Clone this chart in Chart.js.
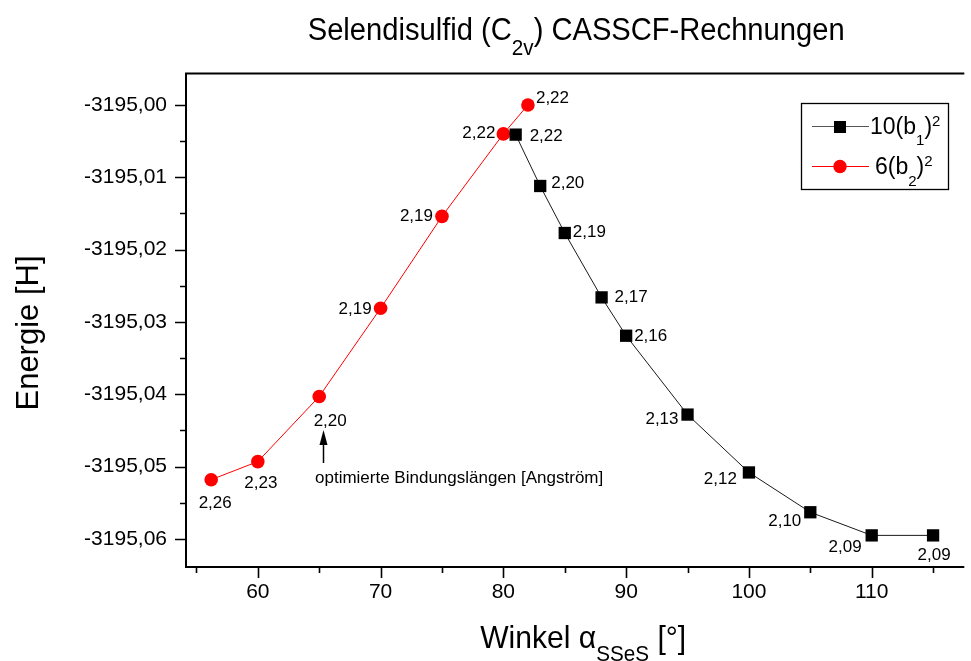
<!DOCTYPE html>
<html>
<head>
<meta charset="utf-8">
<script src="https://cdn.jsdelivr.net/npm/chart.js@4/dist/chart.umd.min.js"></script>
<style>
  html, body { margin: 0; padding: 0; background: #fff; overflow: hidden; }
  #wrap { width: 971px; height: 661px; }
</style>
</head>
<body>
<div id="wrap"><canvas id="c" width="971" height="661"></canvas></div>
<script>
// SSeS bending angle [deg], CASSCF energy [Hartree], optimised bond length [Angstrom]
const angles_b1 = [81, 83, 85, 88, 90, 95, 100, 105, 110, 115];
const energy_b1 = [-3195.0041, -3195.0112, -3195.0177, -3195.0266, -3195.0319,
                   -3195.0428, -3195.0508, -3195.0563, -3195.0595, -3195.0595];
const bond_b1   = [2.22, 2.20, 2.19, 2.17, 2.16, 2.13, 2.12, 2.10, 2.09, 2.09];

const angles_b2 = [56.2, 60, 65, 70, 75, 80, 82];
const energy_b2 = [-3195.0518, -3195.0493, -3195.0403, -3195.0281, -3195.0154,
                   -3195.0040, -3195.0000];
const bond_b2   = [2.26, 2.23, 2.20, 2.19, 2.19, 2.22, 2.22];

const xTickValues = [60, 70, 80, 90, 100, 110];
const xMinorValues = [55, 65, 75, 85, 95, 105, 115];
const yTickValues = [-3195.00, -3195.01, -3195.02, -3195.03, -3195.04, -3195.05, -3195.06];
const yMinorValues = [-3195.005, -3195.015, -3195.025, -3195.035, -3195.045, -3195.055];

const FONT = "'Liberation Sans', Arial, Helvetica, sans-serif";
const fmt = v => v.toFixed(2).replace('.', ',');

// where each bond-length label sits relative to its marker: [dx, dy, align]
const place_b1 = [[14, 2, 'left'], [11, -3, 'left'], [8, -1, 'left'], [13, 0, 'left'], [8, 1, 'left'],
                  [-9, 5, 'right'], [-12, 7, 'right'], [-9, 9, 'right'], [-10, 12, 'right'], [1, 20, 'center']];
const place_b2 = [[4, 24, 'center'], [3, 22, 'center'], [11, 25, 'center'], [-9, 1, 'right'],
                  [-9, 0, 'right'], [-8, -1, 'right'], [8, -7, 'left']];

// text pieces (normal / sub / sup) laid out along one baseline, optionally condensed by sx
function richWidth(ctx, parts) {
  let w = 0;
  for (const p of parts) { ctx.font = p.size + 'px ' + FONT; w += ctx.measureText(p.t).width; }
  return w;
}
function drawRich(ctx, parts, x, y, align, sx) {
  sx = sx || 1;
  const w = richWidth(ctx, parts) * sx;
  const left = align === 'center' ? x - w / 2 : (align === 'right' ? x - w : x);
  ctx.save();
  ctx.translate(left, y);
  ctx.scale(sx, 1);
  ctx.textAlign = 'left';
  ctx.textBaseline = 'alphabetic';
  let cx = 0;
  for (const p of parts) {
    ctx.font = p.size + 'px ' + FONT;
    ctx.fillText(p.t, cx, p.dy || 0);
    cx += ctx.measureText(p.t).width;
  }
  ctx.restore();
}

const decorations = {
  id: 'decorations',
  afterDraw(chart) {
    const ctx = chart.ctx;
    const area = chart.chartArea;
    const xs = chart.scales.x, ys = chart.scales.y;
    ctx.save();
    ctx.fillStyle = '#000';
    ctx.strokeStyle = '#000';

    // frame: left, top and bottom axis lines
    ctx.lineWidth = 2;
    ctx.beginPath();
    ctx.moveTo(area.right + 2, area.top);
    ctx.lineTo(area.left, area.top);
    ctx.lineTo(area.left, area.bottom);
    ctx.lineTo(area.right + 2, area.bottom);
    ctx.stroke();

    // tick marks, pointing outwards
    ctx.lineWidth = 1.6;
    ctx.beginPath();
    for (const v of yTickValues) { const y = Math.round(ys.getPixelForValue(v)) + 0.5; ctx.moveTo(area.left, y); ctx.lineTo(area.left - 11, y); }
    for (const v of yMinorValues) { const y = Math.round(ys.getPixelForValue(v)) + 0.5; ctx.moveTo(area.left, y); ctx.lineTo(area.left - 6, y); }
    for (const v of xTickValues) { const x = Math.round(xs.getPixelForValue(v)) + 0.5; ctx.moveTo(x, area.bottom); ctx.lineTo(x, area.bottom + 11); }
    for (const v of xMinorValues) { const x = Math.round(xs.getPixelForValue(v)) + 0.5; ctx.moveTo(x, area.bottom); ctx.lineTo(x, area.bottom + 6); }
    ctx.stroke();

    // bond-length labels next to the markers
    ctx.font = '17px ' + FONT;
    ctx.textBaseline = 'middle';
    const labelSeries = (angles, energies, bonds, place) => {
      angles.forEach((a, i) => {
        const px = xs.getPixelForValue(a), py = ys.getPixelForValue(energies[i]);
        const [dx, dy, al] = place[i];
        ctx.textAlign = al;
        ctx.fillText(fmt(bonds[i]), px + dx, py + dy);
      });
    };
    labelSeries(angles_b1, energy_b1, bond_b1, place_b1);
    labelSeries(angles_b2, energy_b2, bond_b2, place_b2);

    // arrow and note below the 65 degree point
    const ax = Math.round(xs.getPixelForValue(65)) + 4.5;
    ctx.lineWidth = 1.5;
    ctx.beginPath();
    ctx.moveTo(ax, 463); ctx.lineTo(ax, 440);
    ctx.stroke();
    ctx.beginPath();
    ctx.moveTo(ax, 430); ctx.lineTo(ax - 4, 445); ctx.lineTo(ax + 4, 445); ctx.closePath();
    ctx.fill();
    ctx.font = '17px ' + FONT;
    ctx.textAlign = 'left';
    ctx.textBaseline = 'middle';
    ctx.fillText('optimierte Bindungslängen [Angström]', 315, 478);

    // legend box
    ctx.lineWidth = 1.3;
    ctx.strokeRect(801.5, 103.5, 147, 86);
    ctx.lineWidth = 1;
    ctx.strokeStyle = '#555';
    ctx.beginPath(); ctx.moveTo(812, 126.5); ctx.lineTo(869, 126.5); ctx.stroke();
    ctx.fillStyle = '#000';
    ctx.fillRect(834, 121, 12, 12);
    ctx.strokeStyle = '#ff0000';
    ctx.beginPath(); ctx.moveTo(812, 166.5); ctx.lineTo(869, 166.5); ctx.stroke();
    ctx.fillStyle = '#ff0000';
    ctx.beginPath(); ctx.arc(840, 166.5, 6.7, 0, Math.PI * 2); ctx.fill();
    ctx.fillStyle = '#000';
    drawRich(ctx, [{t: '10(b', size: 23}, {t: '1', size: 15, dy: 11}, {t: ')', size: 23}, {t: '2', size: 15, dy: -8}], 870, 134, 'left');
    drawRich(ctx, [{t: '6(b', size: 23}, {t: '2', size: 15, dy: 12}, {t: ')', size: 23}, {t: '2', size: 15, dy: -8}], 875, 174, 'left');

    // chart title
    const cx = (area.left + area.right) / 2;
    drawRich(ctx, [{t: 'Selendisulfid (C', size: 31}, {t: '2v', size: 22, dy: 15}, {t: ') CASSCF-Rechnungen', size: 31}], cx + 2, 40, 'center', 0.94);

    // x axis title
    drawRich(ctx, [{t: 'Winkel \u03b1', size: 32}, {t: 'SSeS', size: 22, dy: 13}, {t: ' [\u00b0]', size: 32}], cx + 9, 648, 'center', 0.94);

    // y axis title
    ctx.translate(38, 333);
    ctx.rotate(-Math.PI / 2);
    ctx.font = '31px ' + FONT;
    ctx.textAlign = 'center';
    ctx.textBaseline = 'alphabetic';
    ctx.fillText('Energie [H]', 0, 0);
    ctx.restore();
  }
};

const chart = new Chart(document.getElementById('c').getContext('2d'), {
  type: 'line',
  data: {
    datasets: [
      {
        label: '10(b1)2',
        data: angles_b1.map((x, i) => ({ x, y: energy_b1[i] })),
        borderColor: '#1a1a1a', borderWidth: 1, tension: 0,
        pointStyle: 'rect', pointRadius: 8.7, pointBorderWidth: 0,
        pointBackgroundColor: '#000', pointBorderColor: '#000',
        clip: false
      },
      {
        label: '6(b2)2',
        data: angles_b2.map((x, i) => ({ x, y: energy_b2[i] })),
        borderColor: '#ff0000', borderWidth: 1, tension: 0,
        pointStyle: 'circle', pointRadius: 6.8, pointBorderWidth: 0,
        pointBackgroundColor: '#ff0000', pointBorderColor: '#ff0000',
        clip: false
      }
    ]
  },
  options: {
    responsive: false,
    animation: false,
    devicePixelRatio: 1,
    layout: { padding: { top: 73.5, left: 0, right: 0, bottom: 0 } },
    plugins: { legend: { display: false }, tooltip: { enabled: false }, title: { display: false } },
    scales: {
      x: {
        type: 'linear', min: 54.15, max: 117.38,
        grid: { display: false, drawTicks: false, tickLength: 0 },
        border: { display: false },
        ticks: { font: { family: FONT, size: 21 }, color: '#000', padding: 13 },
        afterBuildTicks: s => { s.ticks = xTickValues.map(v => ({ value: v })); },
        afterFit: s => { s.height = 94; }
      },
      y: {
        type: 'linear', min: -3195.06387, max: -3194.99565,
        grid: { display: false, drawTicks: false, tickLength: 0 },
        border: { display: false },
        ticks: { font: { family: FONT, size: 21 }, color: '#000', padding: 19, callback: v => fmt(v) },
        afterBuildTicks: s => { s.ticks = yTickValues.map(v => ({ value: v })); },
        afterFit: s => { s.width = 186; }
      }
    }
  },
  plugins: [decorations]
});
</script>
</body>
</html>
